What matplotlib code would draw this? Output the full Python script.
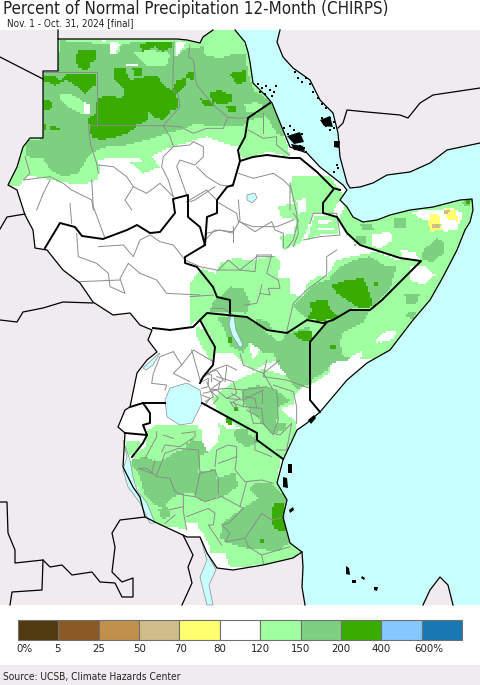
import numpy as np
import matplotlib
matplotlib.use('Agg')
import matplotlib.pyplot as plt
from matplotlib.colors import to_rgb
from matplotlib.patches import Polygon
from matplotlib.path import Path

# map outlines, coords are 3x zoom crops, (crop x0, y0) given when drawn
LAND = '#EFEBEF'
OCEAN = '#C8FFFF'
LIGHT = '#A0FFA0'
MEDIUM = '#7CD080'
DARK = '#38AC00'
YELLOW = '#FFFF70'
TAN = '#D0BC88'
WHITE = '#FFFFFF'
GREY = '#8C8C8C'

legend_colors = ['#523A10', '#8B5A24', '#C0904C', '#D0BC88', '#FFFF70', '#FFFFFF',
                 '#A0FFA0', '#7CD080', '#38AC00', '#84C8FF', '#1878B4']
legend_labels = ['0%', '5', '25', '50', '70', '80', '120', '150', '200', '400', '600%']
legend_label_x = [24, 57, 99, 140, 181, 220, 260, 301, 341, 381, 429]

# crop (0,30)
north_light = [(175,0),(570,0),(600,10),(630,-15),(660,-30),(705,-30),(760,100),(815,220),(850,310),(872,380),
               (800,365),(750,385),(720,380),(715,350),(690,345),(660,335),(620,320),(570,335),(520,350),(490,360),
               (455,380),(480,410),(430,430),(400,400),(350,395),(330,385),(290,390),(300,410),(295,450),(240,465),
               (180,455),(130,445),(80,435),(60,465),(0,470),(40,330),(128,325),(128,125),(175,125)]
north_medium = [(178,32),(240,35),(300,42),(330,40),(335,70),(355,70),(365,40),(415,38),(520,35),(522,70),(520,80),
                (560,55),(610,50),(615,75),(660,85),(700,70),(735,75),(745,130),(760,180),(800,205),(815,222),
                (835,260),(855,320),(830,310),(800,260),(745,270),(730,285),(700,285),(640,290),(590,280),(540,300),
                (500,310),(440,330),(380,345),(320,350),(280,365),(260,385),(250,410),(230,430),(190,440),(150,420),
                (130,385),(80,380),(75,335),(128,325),(128,125),(175,125)]
north_light_holes = [[(400,70),(440,58),(510,70),(500,108),(440,110)],
                     [(180,190),(210,190),(250,215),(250,255),(210,235),(180,205)],
                     [(390,240),(430,240),(410,270)],
                     [(735,225),(770,215),(790,230),(770,250),(740,245)],
                     [(335,40),(365,40),(355,72),(335,72)],
                     [(630,40),(700,30),(730,65),(650,85),(615,70)],
                     [(745,285),(790,270),(800,310),(760,325)]]
north_white = [[(250,215),(270,225),(272,250),(252,250)],
               [(380,100),(412,100),(412,110),(380,110)],
               [(300,32),(330,38),(330,70),(345,72),(360,40),(310,32)],
               [(530,35),(560,35),(530,80)],
               [(330,385),(420,385),(430,395),(350,395)],
               [(640,345),(690,350),(700,355),(660,355)]]
north_dark = [[(235,60),(290,60),(290,90),(270,100),(265,120),(235,115),(225,85)],
              [(130,140),(165,140),(180,150),(205,130),(285,130),(285,165),(255,190),(230,170),(200,150),(165,165),(135,155)],
              [(345,115),(375,115),(390,150),(435,140),(470,135),(495,170),(515,180),(530,150),(560,145),(555,170),
               (530,195),(535,235),(515,240),(490,270),(470,265),(445,245),(440,275),(410,285),(293,285),(270,285),
               (262,270),(285,250),(293,205),(325,195),(365,205),(375,180),(345,150)],
              [(268,287),(410,287),(385,310),(350,320),(300,330),(275,320)],
              [(415,40),(520,35),(515,50),(490,65),(465,50),(430,65)],
              [(398,115),(425,115),(425,135),(402,135)],
              [(625,190),(660,180),(695,195),(695,215),(660,225),(640,215)],
              [(600,205),(640,215),(640,230),(610,225)],
              [(690,130),(740,120),(735,155),(710,165)],
              [(680,230),(705,225),(708,248),(685,245)],
              [(560,130),(585,125),(580,150),(560,145)],
              [(130,210),(160,215),(150,240),(130,240)],
              [(148,290),(185,292),(178,302),(150,302)],
              [(130,280),(137,280),(137,300),(130,300)]]

# crop (190,180)
eth_light = [[(305,-10),(420,-10),(450,30),(465,50),(440,70),(430,100),(400,100),(370,100),(350,150),(330,190),
              (280,210),(270,170),(310,160),(320,120),(270,110),(265,80),(310,70),(300,30)],
             [(375,105),(440,105),(445,160),(390,165),(350,180),(360,150)],
             [(135,235),(190,240),(250,225),(270,240),(265,295),(300,295),(300,340),(340,350),(350,310),(380,290),
              (410,290),(440,240),(510,225),(560,215),(620,240),(693,242),(550,385),(480,390),(450,415),(400,425),
              (350,420),(290,460),(230,450),(165,410),(50,400),(0,440),(0,310),(35,265),(75,280),(90,250)]]
eth_white = [[(320,60),(345,55),(345,95),(325,100)],
             [(385,122),(425,122),(425,128),(385,132)],
             [(385,145),(430,142),(430,148),(385,152)]]
somali_light = [(445,115),(470,70),(520,115),(600,100),(700,80),(820,50),(870,50),(870,130),(840,250),(760,400),
                (640,540),(360,540),(360,490),(400,430),(450,415),(480,390),(550,385),(693,242),(640,240),(510,195),
                (470,165)]
somali_white = [[(545,165),(600,155),(610,180),(570,205),(545,195)],
                [(630,210),(675,215),(690,240),(640,240)],
                [(660,260),(700,255),(735,285),(700,315),(660,300)],
                [(660,95),(790,85),(820,100),(800,150),(760,155),(750,120),(700,120)],
                [(580,465),(620,460),(610,480),(570,490)]]
somali_medium = [[(700,210),(740,175),(765,190),(760,220),(730,245),(695,240)],
                 [(500,170),(525,170),(525,190),(495,195)],
                 [(510,130),(545,130),(550,150),(520,150)],
                 [(610,115),(650,115),(650,145),(615,145)],
                 [(815,65),(845,58),(838,78),(825,78)],
                 [(415,300),(450,260),(490,240),(540,230),(590,260),(620,260),(610,290),(600,330),(560,370),(550,380),
                  (490,385),(440,415),(390,415),(350,420),(310,380),(340,350),(380,310)],
                 [(90,350),(120,320),(160,325),(180,365),(170,400),(135,395),(100,395),(60,395),(70,360)],
                 [(200,420),(230,425),(250,450),(200,450)],
                 [(645,345),(690,340),(680,370),(650,370)],
                 [(650,400),(680,395),(670,420),(650,415)]]
somali_yellow = [[(725,100),(745,100),(755,150),(720,155),(715,125)],
                 [(765,85),(800,90),(802,125),(770,115)]]
somali_tan = [[(725,130),(750,130),(752,142),(725,145)],
              [(760,88),(780,88),(775,105),(760,103)]]
somali_dark = [[(425,315),(470,300),(520,295),(540,340),(550,380),(510,385),(470,360),(440,340)],
               [(360,365),(410,360),(425,395),(445,415),(400,425),(350,420),(365,395)],
               [(310,460),(365,455),(365,480),(355,490),(330,480)],
               [(550,305),(565,305),(565,320),(552,320)],
               [(420,500),(435,500),(435,512),(420,512)],
               [(825,62),(843,60),(838,72),(828,72)]]

# crop (0,300)
shore_light = [[(380,425),(430,430),(395,470),(380,470)],
               [(585,80),(620,95),(645,150),(635,190),(610,150),(590,110)]]
shore_medium = [(930,125),(980,70),(1040,30),(1110,30),(1090,70),(1030,100),(1020,130),(1030,170),(1060,180),
                (1000,190),(980,215),(940,240),(930,260)]
shore_white = [[(1125,130),(1150,100),(1190,95),(1160,125)],
               [(1050,175),(1090,155),(1085,175),(1060,185)],
               [(930,270),(960,250),(1010,240),(960,330),(930,300)],
               [(885,290),(910,260),(935,270),(935,300),(905,310)],
               [(895,345),(955,340),(920,375),(895,375)]]

# crop (130,310)
kenya_light = [[(205,35),(240,75),(257,130),(310,135),(325,150),(370,185),(420,160),(455,150),(470,200),(495,260),
                (540,230),(600,190),(600,0),(230,0)],
               [(300,225),(340,205),(400,180),(470,200),(495,260),(490,285),(450,300),(500,340),(500,370),(470,420),
                (465,450),(440,440),(385,400),(265,310),(245,270)],
               [(50,370),(70,350),(120,350),(200,345),(215,400),(240,440),(130,450),(50,450)],
               [(262,340),(310,370),(385,400),(440,445),(255,450),(280,400)]]
kenya_medium = [[(260,25),(300,20),(350,25),(410,70),(450,100),(445,130),(400,130),(360,100),(340,130),(300,110),(280,55)],
                [(440,110),(470,75),(540,50),(540,225),(500,240),(470,200),(440,160),(430,130)],
                [(340,240),(380,230),(420,235),(440,245),(480,275),(445,295),(440,340),(470,345),(470,360),(430,375),
                 (400,350),(380,320),(345,290),(335,260)],
                [(310,370),(340,360),(385,400),(350,415),(320,395)],
                [(170,400),(215,395),(235,430),(200,445),(165,440)]]
kenya_white = [[(360,105),(395,100),(385,135),(365,150)]]
kenya_dark = [[(285,320),(305,330),(305,345),(292,348)],
              [(312,292),(325,292),(325,303),(312,303)],
              [(296,85),(304,85),(304,100),(296,100)]]

# crop (115,430)
tz_light = [(45,100),(70,65),(130,40),(145,15),(120,0),(260,0),(265,50),(280,70),(310,40),(310,20),(350,0),(400,0),
            (430,30),(495,85),(490,140),(520,200),(510,260),(530,340),(560,365),(520,400),(430,410),(340,415),(290,380),
            (280,340),(255,300),(215,300),(120,290),(80,200),(40,120)]
tz_medium = [[(50,90),(95,85),(130,100),(190,65),(250,50),(255,100),(250,130),(300,120),(300,150),(360,130),(370,170),
              (345,190),(330,200),(260,220),(230,190),(205,195),(170,205),(145,240),(120,225),(90,200),(70,130),(50,110)],
             [(325,280),(385,235),(430,210),(400,180),(420,160),(470,165),(510,200),(520,250),(525,340),(490,365),
              (400,360),(335,340),(315,325)],
             [(130,240),(160,235),(165,265),(140,270)],
             [(360,0),(400,0),(395,35),(365,35)],
             [(225,30),(250,35),(250,60),(225,55)]]
tz_white = [[(290,370),(330,370),(345,415),(300,405)],
            [(215,280),(245,280),(250,300),(215,300)]]
tz_dark = [[(475,225),(505,222),(508,260),(470,265)],
           [(470,265),(505,265),(515,300),(500,310),(475,295)],
           [(438,330),(446,330),(446,340),(438,340)]]

# picture pixels from here on
sudan_top = [(58,30),(58,39),(177,39),(187,40),(200,43),(203,37),(213,30)]
west_edge = [(58,39),(58,71),(43,71),(43,138),(30,138),(23,147),(17,167),(8,185),(17,190),(25,215),(33,230),(35,248),
             (47,250),(63,270),(80,283),(93,302),(113,315),(130,313),(140,325),(152,330),(148,340),(157,352),(147,360),
             (137,373),(130,407),(125,410),(118,427),(125,433),(123,467),(133,487),(140,497),(145,517),(157,523),
             (187,537),(200,537),(207,553),(217,568),(233,570),(263,565),(293,558),(302,552)]
sudan_coast = [(235,30),(245,42),(248,52),(250,62),(253,83),(267,97),(272,103),(283,130),(290,147),(307,153),(320,167),
               (343,185),(347,190),(340,200),(347,207),(353,217),(363,222),(377,220),(390,215),(410,210),(433,207),
               (460,200),(472,199),(473,210),(470,222),(465,230),(457,250),(443,277),(430,300),(413,320),(390,350),
               (367,363),(347,380),(320,412),(307,423),(297,430),(283,460),(277,483),(287,500),(283,517),(290,543),
               (302,552),(303,567),(302,587),(305,605)]
arabia_coast = [(280,30),(277,42),(283,57),(293,68),(310,80),(320,100),(333,113),(338,133),(340,157),(347,183),(350,188),
                (360,187),(373,183),(387,175),(410,172),(430,163),(447,150),(480,143)]
yemen_border = [(480,88),(433,95),(420,103),(408,118),(400,115),(367,112),(347,110),(343,123),(338,128)]
libya_border = [(0,57),(43,79)]
cameroon_border = [(0,229),(7,217),(25,214)]
drc_border = [(0,320),(17,322),(23,312),(43,308),(63,302),(93,303)]
zambia_border = [(0,502),(7,502),(8,533),(15,550),(15,563),(43,560),(50,567),(62,565),(72,575),(92,572),(100,582),
                 (115,583),(122,597),(133,597),(133,578),(122,582),(112,572),(115,547),(112,533),(120,520),(145,517)]
angola_border = [(43,560),(42,590),(12,592),(10,605)]
mozambique_west = [(183,535),(193,555),(188,567),(192,583),(182,605)]
madagascar = [(423,605),(430,590),(440,577),(448,585),(453,605)]
lake_malawi = [(200,537),(207,553),(216,570),(209,585),(213,605),(207,605),(200,577),(207,560)]
lake_victoria = [(165,400),(170,388),(187,383),(200,390),(202,403),(197,413),(192,423),(180,425),(167,417)]
lake_tanganyika = [(123,440),(127,457),(123,470),(128,487),(140,503),(150,523),(155,523),(147,503),(137,490),(133,477),(130,460)]
lake_albert = [(143,368),(157,355),(160,353),(153,365),(146,370)]
lake_turkana = [(231,313),(234,316),(236,330),(243,345),(240,348),(232,335),(229,325)]
lake_tana = [(247,195),(255,193),(257,198),(252,203),(247,200)]

borders = [[(270,103),(248,118),(245,137),(238,150),(240,161),(233,185),(227,187),(217,200),(217,213),(207,217),(205,245),
            (200,227),(188,217),(188,195),(173,199),(175,213),(160,232),(150,233),(137,225),(127,230),(103,239),(82,236),
            (75,227),(60,223),(45,248)],
           [(240,161),(253,157),(267,155),(290,158),(300,158),(317,172),(333,188),(340,190)],
           [(333,190),(323,203),(323,213),(337,217),(347,233),(360,245),(400,258),(421,261),(382,300),(370,310),(350,310),
            (333,320),(323,323),(307,320),(287,333),(267,330),(247,317),(207,313),(200,320),(207,333),(215,347),(213,365),
            (203,377),(200,383)],
           [(327,322),(310,342),(310,400),(320,412)],
           [(205,245),(185,257),(185,263),(197,267),(213,287),(217,297),(230,300),(230,313)],
           [(200,320),(193,327),(170,330),(153,328)],
           [(202,403),(257,433),(257,440),(283,459)],
           [(130,407),(143,403),(150,413),(150,423),(143,425),(147,435),(143,443),(132,457)],
           [(143,403),(165,403)],
           [(125,433),(147,435)]]

# crop (0,30)
north_admin = [[(128,125),(292,125),(292,285)],
               [(265,287),(405,287),(490,287),(540,230),(535,195),(518,180),(522,35)],
               [(490,287),(510,320),(520,350)],
               [(265,287),(272,345),(290,400),(295,430)],
               [(490,287),(540,290),(580,310),(620,295),(670,295),(683,262),(640,225),(590,165),(580,90),(565,80),(570,45)],
               [(683,262),(720,265),(745,262)],
               [(745,300),(790,325),(830,320),(830,345),(868,375)],
               [(790,250),(790,310)],
               [(75,380),(90,430),(70,450),(150,440),(190,460),(215,480),(275,510),(280,540)],
               [(295,405),(340,410),(380,440),(400,470),(440,490),(480,460),(510,490),(520,500)],
               [(520,350),(490,380),(485,410),(505,450),(520,500)],
               [(580,335),(610,350),(610,380),(585,405),(540,390),(530,410),(555,480),(560,495)],
               [(590,410),(620,440),(660,465),(700,470)],
               [(400,470),(375,510),(395,540)],
               [(150,450),(130,490),(110,540)],
               [(560,515),(620,480),(650,510)],
               [(715,430),(760,445),(820,430),(850,450),(870,470),(870,540)],
               [(520,350),(570,345),(580,335)]]
# crop (0,0)
sudan_admin = [[(230,700),(235,770),(290,790),(325,820),(330,860),(375,880),(360,835),(385,790),(420,820)],
               [(295,740),(370,735),(400,770),(420,720),(450,705),(480,725),(520,735),(555,780)],
               [(210,610),(215,670)],
               [(275,540),(280,620),(315,715)],
               [(240,845),(360,840)],
               [(420,820),(470,840),(500,880),(600,885)],
               [(880,640),(895,660),(880,720),(860,745)],
               [(650,605),(710,640),(715,665),(760,680),(830,680),(880,660)],
               [(700,680),(700,700),(660,690),(620,700),(610,740)],
               [(555,780),(600,800),(650,810),(720,810),(770,770),(820,770)]]
# crop (190,180)
eth_admin = [[(300,10),(320,100),(325,160),(310,200)],
             [(360,130),(370,100),(440,100),(450,165),(390,170),(340,180)],
             [(440,210),(410,230),(410,285),(350,330),(310,370),(290,455)],
             [(75,20),(60,30),(15,60),(0,65)],
             [(145,60),(150,120),(130,155),(75,150),(45,180)],
             [(130,155),(130,185)],
             [(150,125),(195,155),(245,125),(255,150),(280,160),(280,205)],
             [(85,270),(115,240),(150,270),(195,275),(200,225),(245,225),(230,280),(265,300),(270,325),(235,325),(240,345),(210,340),(215,315)],
             [(0,350),(70,345)],
             [(65,385),(100,385),(120,400)],
             [(165,375),(200,370),(210,340)]]
# crop (130,310)
kenya_admin = [[(330,130),(340,165),(400,190),(430,240)],
               [(400,190),(450,150)],
               [(410,150),(400,200),(470,210),(540,235)],
               [(430,225),(490,245),(500,290),(500,340)],
               [(440,240),(445,330),(430,370),(450,375),(485,340),(470,420),(440,420)],
               [(320,180),(290,165),(250,180),(210,210)],
               [(290,170),(285,215)],
               [(230,190),(260,180),(280,210),(240,240),(290,235),(340,240),(410,230)],
               [(220,250),(260,240),(290,265),(340,270),(400,240)],
               [(340,240),(340,290),(395,295),(400,340),(430,375)],
               [(360,300),(370,340),(400,340)],
               [(310,290),(300,275),(340,290)],
               [(230,215),(250,260),(225,275)],
               [(260,200),(310,215),(320,250),(290,265)],
               [(130,125),(90,140),(70,190),(65,220),(110,225),(105,240)],
               [(130,125),(155,165),(130,190),(180,215)],
               [(155,165),(190,120),(250,155)],
               [(210,210),(185,120)],
               [(215,215),(235,205),(235,230),(215,235)],
               [(225,190),(245,195),(245,215)],
               [(250,205),(270,215),(265,240)],
               [(215,255),(240,265),(225,285)],
               [(245,245),(265,265),(250,280)],
               [(305,250),(330,265),(310,275),(325,300)],
               [(345,260),(375,265),(380,295)],
               [(395,240),(395,280)],
               [(350,300),(385,320)]]
# crop (115,430)
tz_admin = [[(120,90),(110,130),(70,115),(95,115),(125,140),(165,145),(180,185),(205,195),(240,200),(270,215),(320,200),
             (385,235),(340,280),(320,285),(345,310),(330,335),(390,325),(440,250),(470,270),(510,260)],
            [(390,325),(400,350),(440,375),(525,350)],
            [(440,375),(445,400)],
            [(205,195),(205,245),(215,300)],
            [(160,240),(205,230)],
            [(180,255),(150,280)],
            [(215,260),(280,235),(300,250),(295,285),(280,285),(320,345)],
            [(240,200),(255,130),(250,60),(190,55),(150,70),(125,135)],
            [(255,130),(300,120),(310,150),(310,190)],
            [(310,100),(365,80),(365,50),(340,45),(305,60),(300,110)],
            [(365,80),(360,120),(390,155),(440,150),(475,160)],
            [(395,155),(375,230)],
            [(420,15),(420,60),(470,80)],
            [(140,65),(150,45),(195,50),(240,20),(240,5),(200,10)],
            [(175,25),(145,15)],
            [(90,85),(125,20),(125,5)]]

red_sea_specks_x = [258,262,266,270,274,260,265,272,276,295,298,302,306,310,313,318,322,326,330,334,284,288,292,296,300,304,336,338,334,337,
                    322,326,330,334,290,294,298,302,306]
red_sea_specks_y = [84,88,86,90,92,92,94,96,86,72,78,82,78,84,92,98,104,108,118,122,128,134,138,142,146,148,145,168,172,165,
                    118,126,130,128,126,130,142,134,152]
island_blobs = [[(287,136),(300,132),(304,142),(294,144)],[(291,144),(303,146),(305,151),(294,150)],[(320,120),(330,116),(333,127),(324,126)],
                [(334,141),(340,141),(339,148),(334,147)],[(288,464),(292,464),(292,473),(288,473)],[(283,477),(287,478),(288,488),(283,487)],
                [(289,510),(293,507),(294,510),(290,513)],[(346,566),(349,568),(350,575),(346,574)],[(352,580),(356,580),(356,583),(352,583)],
                [(362,576),(365,578),(364,580),(361,578)],[(374,587),(378,587),(377,591),(374,590)],[(308,420),(314,415),(316,418),(311,424)]]


fig = plt.figure(figsize=(4.8, 6.85), dpi=100)
ax = fig.add_axes([0, 0, 1, 1])


def crop(pts, x0, y0):
    return [(p[0] / 3 + x0, p[1] / 3 + y0) for p in pts]


def fill(pts, color, z=6):
    ax.add_patch(Polygon(pts, closed=True, fc=color, ec='none', zorder=z))


def lines(groups, color, lw, z=8):
    for g in groups:
        xs = [p[0] for p in g]
        ys = [p[1] for p in g]
        ax.plot(xs, ys, color=color, lw=lw, zorder=z, solid_joinstyle='round')


# the percent field is blocky in the original, so paint it on a coarse grid
cell = 2
cx, cy = np.meshgrid(np.arange(1, 480, cell), np.arange(31, 606, cell))
centers = np.column_stack([cx.ravel(), cy.ravel()])
field = np.ones((cx.size, 3))


def paint(groups, x0, y0, color):
    for g in groups:
        field[Path(crop(g, x0, y0)).contains_points(centers)] = to_rgb(color)


paint([north_light], 0, 30, LIGHT)
paint(eth_light, 190, 180, LIGHT)
paint([somali_light], 190, 180, LIGHT)
paint(shore_light, 0, 300, LIGHT)
paint(kenya_light, 130, 310, LIGHT)
paint([tz_light], 115, 430, LIGHT)

paint(eth_white, 190, 180, WHITE)
paint(somali_white, 190, 180, WHITE)
paint(shore_white, 0, 300, WHITE)
paint(kenya_white, 130, 310, WHITE)
paint(tz_white, 115, 430, WHITE)

paint([north_medium], 0, 30, MEDIUM)
paint(north_light_holes, 0, 30, LIGHT)
paint(north_white, 0, 30, WHITE)
paint(somali_medium, 190, 180, MEDIUM)
paint([shore_medium], 0, 300, MEDIUM)
paint(kenya_medium, 130, 310, MEDIUM)
paint(tz_medium, 115, 430, MEDIUM)
paint(somali_yellow, 190, 180, YELLOW)
paint(somali_tan, 190, 180, TAN)

paint(north_dark, 0, 30, DARK)
paint(somali_dark, 190, 180, DARK)
paint(kenya_dark, 130, 310, DARK)
paint(tz_dark, 115, 430, DARK)

ax.imshow(field.reshape(cx.shape + (3,)), extent=(0, 480, 605, 30), interpolation='nearest', aspect='auto', zorder=1)

# outside land and water cover whatever ran over the coast
fill(sudan_top + [(58, 30)], LAND)
fill([(0, 30), (58, 30)] + west_edge + [(305, 605), (0, 605)], LAND)
fill(sudan_coast + [(480, 605), (480, 30)], OCEAN)
fill(arabia_coast + [(480, 30)], LAND)
fill(madagascar, LAND)
for lake in [lake_victoria, lake_tanganyika, lake_albert, lake_turkana, lake_tana, lake_malawi]:
    ax.add_patch(Polygon(lake, closed=True, fc=OCEAN, ec=GREY, lw=0.5, zorder=9))

lines([crop(g, 0, 30) for g in north_admin], GREY, 0.7)
lines([crop(g, 0, 0) for g in sudan_admin], GREY, 0.7)
lines([crop(g, 190, 180) for g in eth_admin], GREY, 0.7)
lines([crop(g, 130, 310) for g in kenya_admin], GREY, 0.7)
lines([crop(g, 115, 430) for g in tz_admin], GREY, 0.7)

lines([sudan_top, west_edge, sudan_coast, arabia_coast, yemen_border, libya_border, cameroon_border,
       drc_border, zambia_border, angola_border, mozambique_west, madagascar], 'black', 0.9, 10)
lines(borders, 'black', 1.4, 11)
for blob in island_blobs:
    fill(blob, 'black', 11)
ax.scatter(red_sea_specks_x, red_sea_specks_y, s=1.2, c='black', marker='s', linewidths=0, zorder=11)

# colour bar, 11 boxes
for i, c in enumerate(legend_colors):
    ax.add_patch(plt.Rectangle((18 + i * 40.36, 619.5), 40.36, 20, fc=c, ec='#707070', lw=0.8, zorder=3))
for x, lab in zip(legend_label_x, legend_labels):
    ax.text(x, 649, lab, ha='center', va='center', fontsize=8.2, color='#222222', fontstretch='condensed')

ax.add_patch(plt.Rectangle((0, 665), 480, 20, fc=LAND, ec='none', zorder=1))
ax.text(3, 677, 'Source: UCSB, Climate Hazards Center', ha='left', va='center', fontsize=7.3,
        color='#222222', fontstretch='condensed', zorder=3)
ax.text(3, 8.5, 'Percent of Normal Precipitation 12-Month (CHIRPS)', ha='left', va='center', fontsize=12.2,
        color='#222222', fontstretch='condensed')
ax.text(7, 23, 'Nov. 1 - Oct. 31, 2024 [final]', ha='left', va='center', fontsize=7.1,
        color='#222222', fontstretch='condensed')

ax.set_xlim(0, 480)
ax.set_ylim(685, 0)
ax.axis('off')

fig.savefig('out.png', dpi=100)
